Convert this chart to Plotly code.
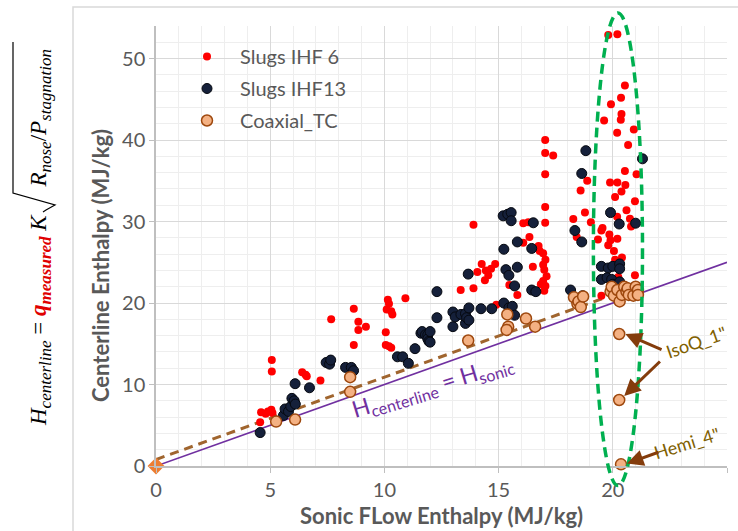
import plotly.graph_objects as go

# ---------------- data ----------------
ihf6_x = [4.56, 4.6, 4.8, 4.9, 5.05, 5.1, 5.07, 5.07, 6.4, 6.55, 6.6, 7.2, 7.67, 8.66, 8.86, 8.86,
          9.19, 8.66, 10.06, 10.06, 10.2, 10.3, 10.15, 10.2, 10.1, 10.3, 10.35, 10.92, 13.34, 13.9,
          13.9, 14.07, 14.26, 14.4, 14.44, 14.55, 14.67, 14.85, 14.9, 15.47, 15.82, 16.08, 16.3,
          16.35, 16.08, 16.5, 16.75, 16.8, 16.95, 17.05, 16.95, 17.0, 17.1, 16.95, 16.85, 17.0,
          17.05, 17.04, 17.04, 17.39, 17.04, 17.04, 17.04, 18.27, 18.42, 18.59, 18.78, 18.88,
          19.04, 19.35, 19.5, 19.55, 19.62, 19.8, 19.8, 19.85, 19.88, 19.9, 19.92, 20.05, 20.1,
          20.1, 20.19, 20.19, 20.2, 20.2, 20.24, 20.3, 20.35, 20.36, 20.38, 20.38, 20.4, 20.53,
          20.53, 20.55, 20.6, 20.67, 20.75, 20.8, 20.92, 20.97, 20.97, 21.04, 19.5, 20.2]
ihf6_y = [5.36, 6.6, 6.4, 6.7, 6.9, 6.5, 13.0, 11.6, 11.5, 11.2, 11.0, 10.5, 18.0, 19.3, 17.7, 16.7,
          17.1, 14.85, 16.4, 14.85, 14.7, 14.5, 20.4, 19.9, 19.2, 19.0, 18.6, 20.6, 21.6, 21.8,
          29.6, 23.8, 24.8, 22.8, 24.0, 23.4, 24.2, 24.8, 19.8, 22.2, 21.0, 29.8, 29.9,
          28.1, 27.4, 24.45, 27.0, 26.4, 26.1, 25.3, 24.7, 24.1, 23.3, 22.7, 22.3, 21.5,
          22.1, 40.0, 38.4, 38.1, 35.8, 31.8, 29.85, 30.3, 28.1, 33.8, 31.1, 35.0,
          29.9, 27.8, 28.9, 29.2, 42.4, 52.9, 27.1, 28.4, 34.8, 27.7, 44.4, 26.4, 33.0,
          25.3, 40.9, 30.6, 53.0, 34.8, 23.2, 22.0, 42.5, 45.2, 43.2, 33.7, 25.6, 46.7,
          36.2, 34.5, 31.4, 39.4, 30.35, 29.4, 41.3, 32.5, 23.4, 35.8, 20.9, 27.9]

ihf13_x = [4.56, 5.58, 5.65, 5.8, 5.9, 5.95, 6.05, 6.1, 6.09, 6.72, 7.45, 7.6, 7.65, 8.3, 8.55, 8.65,
           10.57, 10.8, 11.05, 11.34, 11.6, 11.65, 11.8, 11.9, 11.9, 11.95, 12.0, 12.0, 12.3, 12.3,
           13.0, 13.0, 13.1, 13.35, 13.55, 13.55, 13.6, 13.7, 13.7, 13.67, 14.23, 14.7, 15.2, 15.4,
           15.55, 15.55, 15.23, 15.82, 16.52, 16.45, 15.32, 15.45, 15.82, 15.7, 15.23, 15.45, 15.6,
           15.7, 16.45, 16.63, 18.15, 18.82, 18.64, 21.3, 18.34, 18.64, 19.9, 20.28, 21.0, 19.5,
           19.8, 20.0, 20.3, 20.3, 19.5, 19.75, 19.95, 20.0, 20.3, 18.68]
ihf13_y = [4.1, 6.2, 7.0, 6.7, 7.3, 8.3, 8.0, 7.6, 10.1, 9.6, 12.7, 12.5, 13.0, 12.1, 12.1, 11.7,
           13.4, 13.4, 12.6, 14.4, 16.3, 16.5, 16.1, 16.1, 15.6, 15.3, 16.5, 15.2, 21.4, 18.2,
           18.9, 17.1, 18.3, 18.6, 18.7, 17.5, 18.2, 19.4, 17.9, 23.55, 19.3, 19.3, 30.7, 30.9,
           31.1, 30.1, 26.6, 27.5, 29.85, 26.7, 24.1, 23.4, 24.4, 22.1, 20.0, 19.4, 19.6,
           18.5, 21.6, 21.4, 21.6, 38.7, 35.9, 37.7, 28.9, 27.5, 31.1, 29.7, 29.8, 24.5,
           24.3, 24.5, 24.8, 24.2, 22.9, 23.1, 22.9, 22.3, 22.6, 20.9]

coax_x = [5.26, 6.09, 8.5, 8.5, 13.67, 15.38, 15.42, 15.35, 16.2, 16.6, 18.3, 18.45, 18.5, 18.6,
          18.7, 19.9, 19.95, 20.05, 20.2, 20.3, 20.4, 20.5, 20.6, 20.65, 20.7, 20.9, 21.0, 21.1,
          21.1, 20.28, 20.28, 20.36]
coax_y = [5.45, 5.7, 10.9, 9.1, 15.4, 18.6, 17.1, 16.7, 18.1, 17.1, 20.7, 19.9, 20.2, 19.5,
          20.8, 21.4, 22.0, 20.9, 21.6, 20.2, 21.0, 22.0, 21.4, 21.8, 21.0, 20.9, 22.0, 21.6,
          21.0, 16.2, 8.1, 0.2]

ideal_x = [0, 25]
ideal_y = [0, 25]
fit_x = [0, 19.6]
fit_y = [0.8, 20.6]
origin_x = [0]
origin_y = [0]

x_ticks = [0, 5, 10, 15, 20, 25]
y_ticks = [0, 10, 20, 30, 40, 50]
x_range = [0, 25]
y_range = [0, 54]

# ellipse around the 20 MJ/kg cluster (data units)
ell_x = [19.15, 21.3]
ell_y = [-2.4, 55.6]

GRAY = "#595959"
FONT = "Lato"

fig = go.Figure()

fig.add_trace(go.Scatter(x=ideal_x, y=ideal_y, mode="lines",
                         line=dict(color="#7030A0", width=1.6), showlegend=False, hoverinfo="skip"))
fig.add_trace(go.Scatter(x=fit_x, y=fit_y, mode="lines",
                         line=dict(color="#A0652E", width=3, dash="9px,6px"),
                         showlegend=False, hoverinfo="skip"))

fig.add_trace(go.Scatter(x=ihf6_x, y=ihf6_y, mode="markers", name="Slugs IHF 6", legendgroup="a",
                         marker=dict(color="#FF0000", size=8, line=dict(width=0))))
fig.add_trace(go.Scatter(x=ihf13_x, y=ihf13_y, mode="markers", name="Slugs IHF13", legendgroup="b",
                         marker=dict(color="#15203A", size=10, line=dict(color="#05080f", width=1))))
fig.add_trace(go.Scatter(x=coax_x, y=coax_y, mode="markers", name="Coaxial_TC", legendgroup="c",
                         marker=dict(color="#F4B183", size=11, line=dict(color="#9E480E", width=1.5)),
                         cliponaxis=False))
fig.add_trace(go.Scatter(x=origin_x, y=origin_y, mode="markers", showlegend=False,
                         marker=dict(symbol="diamond", color="#ED7D31", size=13),
                         cliponaxis=False, hoverinfo="skip"))

# -------- layout --------
W, H = 738, 531
ML, MR, MT, MB = 156, 11, 26, 65
PW, PH = W - ML - MR, H - MT - MB


def px_to_paper_x(px):
    return (px - ML) / PW


def px_to_paper_y(py):
    return (H - MB - py) / PH


def dx(v):
    return (v - x_range[0]) / (x_range[1] - x_range[0])


def dy(v):
    return (v - y_range[0]) / (y_range[1] - y_range[0])


def paper_path(points):
    parts = []
    for i, (px, py) in enumerate(points):
        parts.append(("M" if i == 0 else "L") + f"{px_to_paper_x(px):.5f},{px_to_paper_y(py):.5f}")
    return " ".join(parts)


shapes = [
    # chart-area frame
    dict(type="rect", xref="paper", yref="paper",
         x0=px_to_paper_x(73), x1=px_to_paper_x(745), y0=px_to_paper_y(540), y1=px_to_paper_y(7),
         line=dict(color="#d9d9d9", width=1.5), fillcolor="rgba(0,0,0,0)", layer="below"),
    # dashed green ellipse
    dict(type="circle", xref="x domain", yref="y domain",
         x0=dx(ell_x[0]), x1=dx(ell_x[1]), y0=dy(ell_y[0]), y1=dy(ell_y[1]),
         line=dict(color="#00B050", width=3.5, dash="10px,6px")),
    # radical sign of the equation (rotated)
    dict(type="path", xref="paper", yref="paper",
         path=paper_path([(43, 212), (46, 210), (55, 205), (13, 193), (13, 42)]),
         line=dict(color="black", width=1.2)),
]

SUB = "<sub><span style='font-size:17px'>{}</span></sub>"
eq_text = ("<i>H" + SUB.format("centerline") + "</i> = "
           "<span style='color:#E00000'><b><i>q" + SUB.format("measured") + "</i></b></span> "
           "<i>K</i>\u00a0\u00a0\u00a0\u00a0\u00a0<i>R" + SUB.format("nose") + "</i>/<i>P"
           + SUB.format("stagnation") + "</i>")

annotations = [
    dict(xref="paper", yref="paper", x=px_to_paper_x(441), y=px_to_paper_y(515),
         text="<b>Sonic FLow Enthalpy (MJ/kg)</b>", showarrow=False,
         font=dict(family=FONT, size=22, color=GRAY), xanchor="center", yanchor="middle"),
    dict(xref="paper", yref="paper", x=px_to_paper_x(100), y=px_to_paper_y(266),
         text="<b>Centerline Enthalpy (MJ/kg)</b>", showarrow=False, textangle=-90,
         font=dict(family=FONT, size=22, color=GRAY), xanchor="center", yanchor="middle"),
    dict(xref="paper", yref="paper", x=px_to_paper_x(40), y=px_to_paper_y(238),
         text=eq_text, showarrow=False, textangle=-90,
         font=dict(family="Liberation Serif", size=23, color="black"),
         xanchor="center", yanchor="middle"),
    dict(x=12.1, y=9.8, text="H<sub>centerline</sub> = H<sub>sonic</sub>", showarrow=False,
         textangle=-17, font=dict(family=FONT, size=23, color="#7030A0")),
    dict(x=23.64, y=15.2, text='IsoQ_1"', showarrow=False, textangle=-19,
         font=dict(family=FONT, size=18, color="#806000")),
    dict(x=23.24, y=2.86, text='Hemi_4"', showarrow=False, textangle=-17,
         font=dict(family=FONT, size=18, color="#806000")),
]

arrows = [((22.2, 14.2), (20.55, 16.2)), ((22.13, 13.0), (20.5, 8.6)), ((22.06, 1.75), (20.62, 0.3))]
for (tx, ty), (hx, hy) in arrows:
    annotations.append(dict(x=hx, y=hy, ax=tx, ay=ty, axref="x", ayref="y", text="",
                            showarrow=True, arrowhead=2, arrowsize=1.1, arrowwidth=3,
                            arrowcolor="#843C0C", standoff=0, startstandoff=0))

fig.update_layout(
    width=W, height=H, margin=dict(l=ML, r=MR, t=MT, b=MB),
    paper_bgcolor="white", plot_bgcolor="white",
    font=dict(family=FONT, color=GRAY),
    shapes=shapes, annotations=annotations,
    legend=dict(x=px_to_paper_x(174), y=px_to_paper_y(37), xanchor="left", yanchor="top",
                bgcolor="rgba(0,0,0,0)", font=dict(family=FONT, size=20, color=GRAY),
                itemwidth=56, tracegroupgap=3),
    xaxis=dict(range=x_range, tickvals=x_ticks, ticktext=[str(v) for v in x_ticks],
               showgrid=True, gridcolor="#d9d9d9", gridwidth=1.3,
               minor=dict(dtick=1, showgrid=True, gridcolor="#eeeeee", gridwidth=1),
               showline=True, linecolor="#bfbfbf", linewidth=1.5,
               ticks="outside", ticklen=5, tickcolor="#bfbfbf",
               tickfont=dict(family=FONT, size=20, color=GRAY), zeroline=False),
    yaxis=dict(range=y_range, tickvals=y_ticks, ticktext=[str(v) for v in y_ticks],
               showgrid=True, gridcolor="#d9d9d9", gridwidth=1.3,
               minor=dict(dtick=2, showgrid=True, gridcolor="#eeeeee", gridwidth=1),
               showline=True, linecolor="#bfbfbf", linewidth=1.5,
               ticks="outside", ticklen=5, tickcolor="#bfbfbf",
               tickfont=dict(family=FONT, size=20, color=GRAY), zeroline=False),
)

fig.write_html("out.html", config={"displayModeBar": False},
               post_script="document.body.style.margin='0';")
